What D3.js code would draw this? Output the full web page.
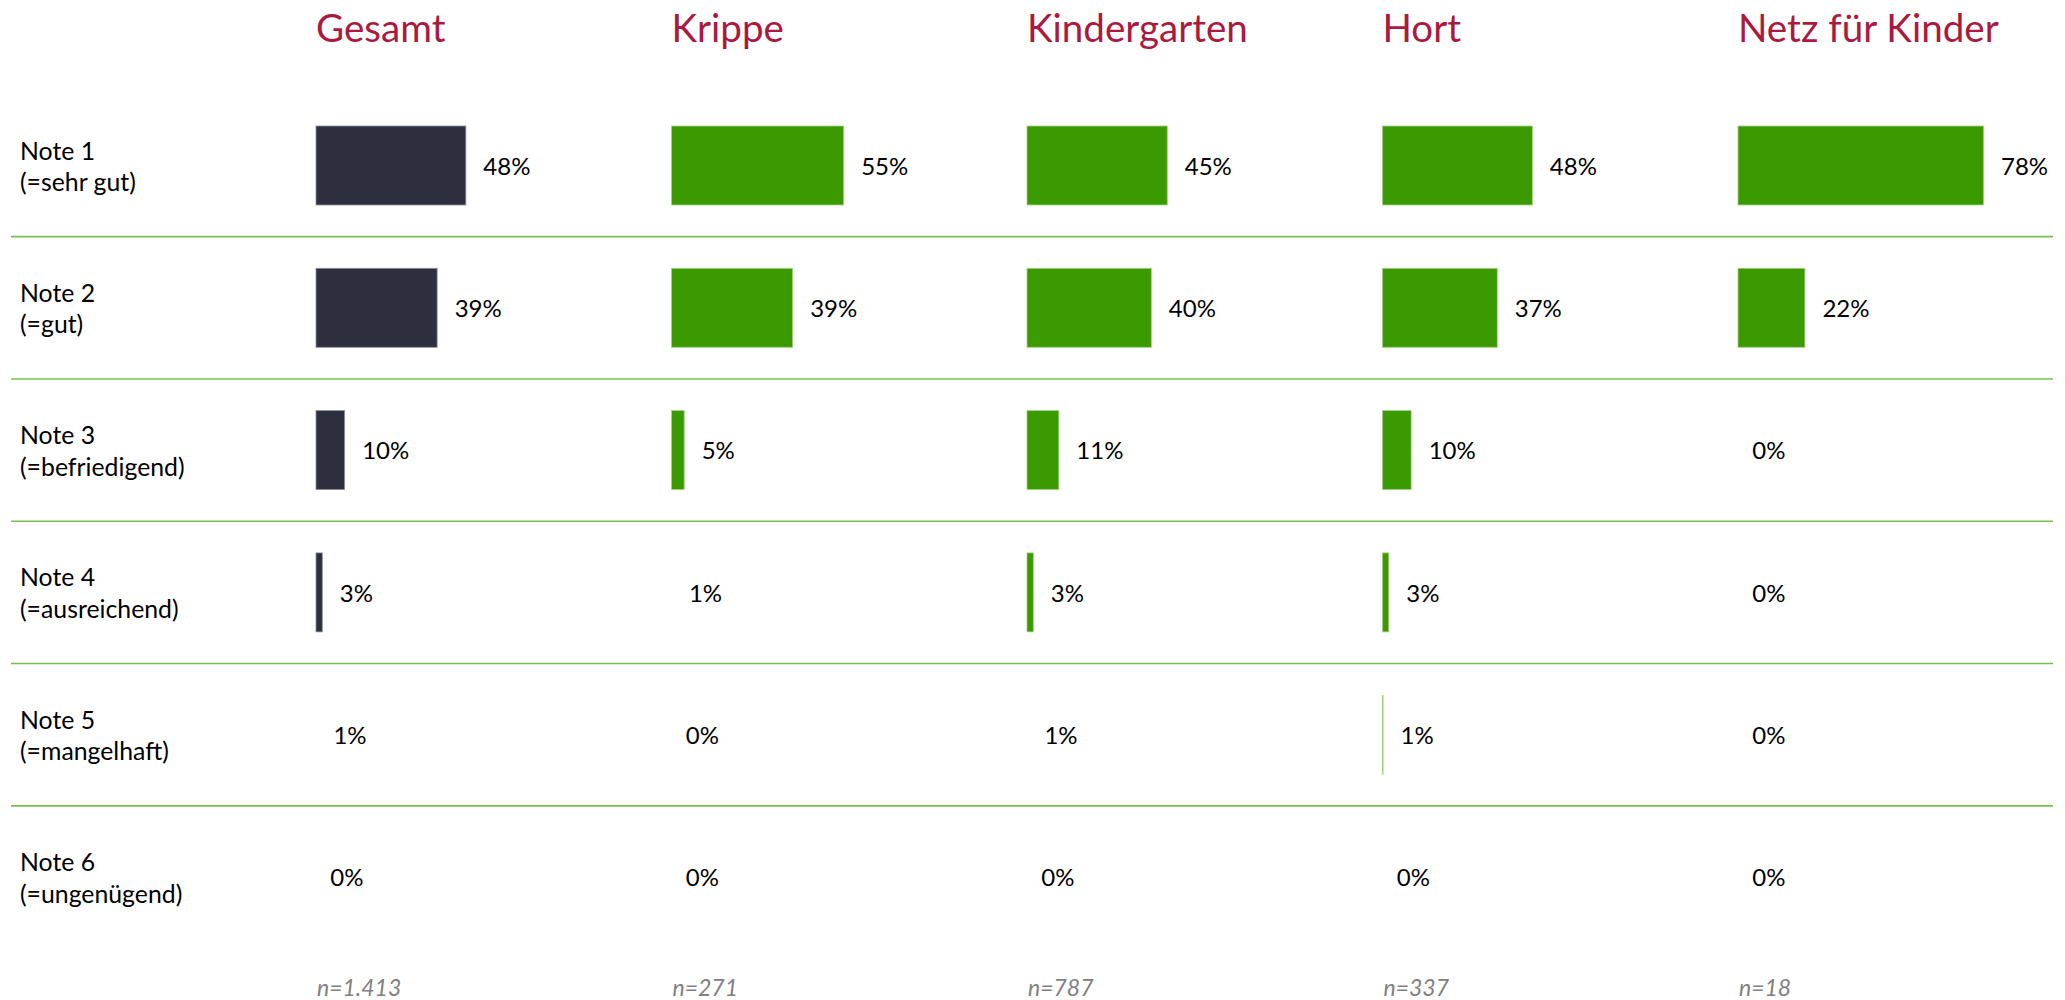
<!DOCTYPE html>
<html>
<head>
<meta charset="utf-8">
<script src="https://cdn.jsdelivr.net/npm/d3@7"></script>
<style>
  html, body { margin: 0; padding: 0; background: #ffffff; }
  svg { display: block; }
</style>
</head>
<body>
<script>
// ---- data ----
const groups = ["Gesamt", "Krippe", "Kindergarten", "Hort", "Netz für Kinder"];
const notes = ["Note 1", "Note 2", "Note 3", "Note 4", "Note 5", "Note 6"];
const noteDesc = ["(=sehr gut)", "(=gut)", "(=befriedigend)", "(=ausreichend)", "(=mangelhaft)", "(=ungenügend)"];
const gesamt       = [48, 39, 10, 3, 1, 0];
const krippe       = [55, 39, 5, 1, 0, 0];
const kindergarten = [45, 40, 11, 3, 1, 0];
const hort         = [48, 37, 10, 3, 1.2, 0];
const netz         = [78, 22, 0, 0, 0, 0];
const seriesValues = [gesamt, krippe, kindergarten, hort, netz];
const sampleSizes = ["n=1.413", "n=271", "n=787", "n=337", "n=18"];

// ---- layout ----
const W = 2065, H = 1000;
const FONT = "Lato, 'Open Sans', 'Noto Sans', sans-serif";
const svg = d3.select("body").append("svg").attr("width", W).attr("height", H);

const colX = d3.scalePoint().domain(groups).range([316, 1738]);
const rowY = d3.scaleBand().domain(notes).range([94.35, 948.15]).paddingInner(0.445).paddingOuter(0.2225);
const barX = d3.scaleLinear().domain([0, 100]).range([-3.27, 315.7]);
const fmt = v => d3.format(".0f")(v) + "%";

const fillColor = g => g === "Gesamt" ? "#2d2f3f" : "#3a9a00";
const edgeColor = g => g === "Gesamt" ? "#8b8e9c" : "#a4d084";

// titles
svg.append("g").selectAll("text").data(groups).join("text")
  .attr("x", d => colX(d))
  .attr("y", 41.7)
  .attr("font-family", FONT)
  .attr("font-size", 38.6)
  .attr("fill", "#ab1a3e")
  .text(d => d);

// row labels
const rl = svg.append("g").selectAll("text").data(notes).join("text")
  .attr("font-family", FONT)
  .attr("font-size", 24.8)
  .attr("fill", "#000");
rl.append("tspan").attr("x", 20).attr("y", d => rowY(d) + rowY.bandwidth() / 2 - 6).text(d => d);
rl.append("tspan").attr("x", 20).attr("y", (d, i) => rowY(d) + rowY.bandwidth() / 2 + 25.5).text((d, i) => noteDesc[i]);

// dividers
const step = rowY.step();
svg.append("g").selectAll("line").data(notes.slice(0, -1)).join("line")
  .attr("x1", 11).attr("x2", 2053)
  .attr("y1", d => rowY(d) + rowY.bandwidth() / 2 + step / 2)
  .attr("y2", d => rowY(d) + rowY.bandwidth() / 2 + step / 2)
  .attr("stroke", "#78c04e")
  .attr("stroke-width", 1.6);

// bars + value labels
groups.forEach((g, gi) => {
  const vals = seriesValues[gi];
  const cg = svg.append("g").attr("transform", `translate(${colX(g)},0)`);
  cg.selectAll("rect").data(vals).join("rect")
    .attr("x", 0)
    .attr("y", (d, i) => rowY(notes[i]))
    .attr("width", d => Math.max(0, barX(d)))
    .attr("height", rowY.bandwidth())
    .attr("fill", fillColor(g))
    .attr("stroke", edgeColor(g))
    .attr("stroke-width", 0.8);
  cg.selectAll("text").data(vals).join("text")
    .attr("x", d => barX(d) + 17.5)
    .attr("y", (d, i) => rowY(notes[i]) + rowY.bandwidth() / 2 + 9.3)
    .attr("font-family", FONT)
    .attr("font-size", 24)
    .attr("fill", "#000")
    .text(d => fmt(d));
});

// sample sizes
svg.append("g").selectAll("text").data(sampleSizes).join("text")
  .attr("x", (d, i) => colX(groups[i]) + 1)
  .attr("y", 996)
  .attr("font-family", FONT)
  .attr("font-size", 23)
  .attr("font-style", "italic")
  .attr("fill", "#808080")
  .text(d => d);
</script>
</body>
</html>
